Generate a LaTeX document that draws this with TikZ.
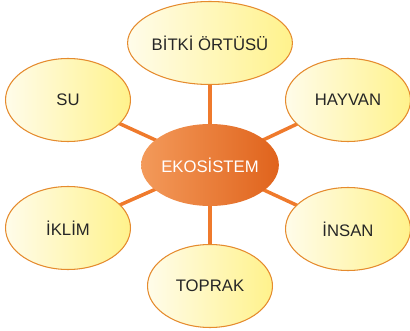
\documentclass[tikz,border=0pt]{standalone}
\usepackage{fontspec}
\setmainfont{Liberation Sans}
\usepackage{tikz}
\usetikzlibrary{shapes.geometric}
\usetikzlibrary{backgrounds}
\usetikzlibrary{positioning}
\definecolor{linkorange}{HTML}{EF7A2C}
\definecolor{rimorange}{HTML}{E58B2E}
\definecolor{paleleft}{HTML}{FFFCEA}
\definecolor{paleright}{HTML}{FFF28C}
\definecolor{hubleft}{HTML}{F39A5A}
\definecolor{hubright}{HTML}{E0631C}

\begin{document}
\begin{tikzpicture}[x=0.02cm,y=-0.02cm,
      topic node/.style={ellipse,draw=rimorange,line width=0.6pt,
        left color=paleleft,right color=paleright,
        minimum width=2.5cm,minimum height=1.66cm,inner sep=0pt,
        font=\fontsize{9.5}{11}\selectfont,text=black!85},
      hub node/.style={ellipse,left color=hubleft,right color=hubright,
        minimum width=2.48cm,minimum height=1.64cm,inner sep=0pt,
        font=\fontsize{9.5}{11}\selectfont,text=white},
      link/.style={linkorange,line width=2pt}]
    \useasboundingbox (0,0) rectangle (410,331);
    \node[hub node] (eko) at (210,165) {EKOSİSTEM};
    \node[topic node] (bitki) at (210,43) {BİTKİ ÖRTÜSÜ};
    \node[topic node] (su) at (68,100) {SU};
    \node[topic node] (hayvan) at (348,100) {HAYVAN};
    \node[topic node] (iklim) at (68,228) {İKLİM};
    \node[topic node] (insan) at (348,229) {İNSAN};
    \node[topic node] (toprak) at (210,286) {TOPRAK};
    \begin{pgfonlayer}{background}
      \foreach \n in {bitki,su,hayvan,iklim,insan,toprak}
        \draw[link] (eko.center) -- (\n.center);
    \end{pgfonlayer}
  \end{tikzpicture}
\end{document}
